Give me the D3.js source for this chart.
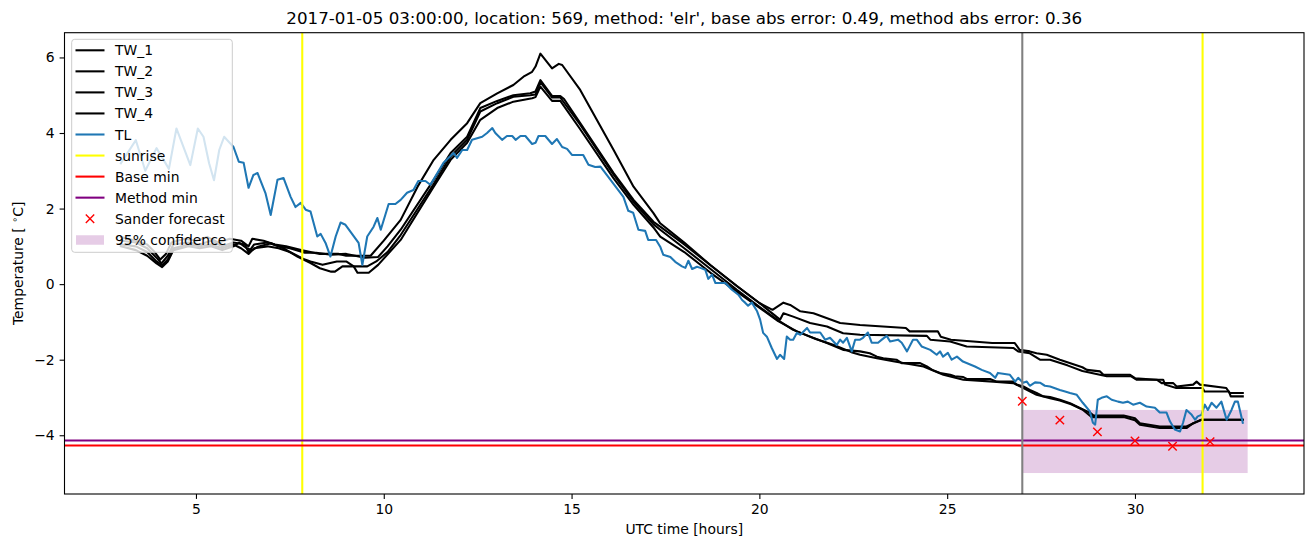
<!DOCTYPE html>
<html>
<head>
<meta charset="utf-8">
<script src="https://cdn.jsdelivr.net/npm/d3@7"></script>
<style>
  html, body { margin: 0; padding: 0; background: #fff; }
  svg { display: block; font-family: "DejaVu Sans", sans-serif; }
</style>
</head>
<body>
<svg id="chart" width="1313" height="547"></svg>
<script>
// ---------------- DATA ----------------
const titleText = "2017-01-05 03:00:00, location: 569, method: 'elr', base abs error: 0.49, method abs error: 0.36";
const xTicks = [5, 10, 15, 20, 25, 30];
const yTicks = [-4, -2, 0, 2, 4, 6];

const tlHours = [3.00,3.40,3.65,3.95,4.28,4.48,4.85,5.05,5.20,5.35,5.48,5.62,5.75,6.00,6.14,6.27,6.40,6.53,6.64,6.85,6.99,7.17,7.33,7.52,7.65,7.79,7.92,8.05,8.23,8.32,8.45,8.58,8.72,8.85,8.98,9.33,9.43,9.56,9.73,9.83,9.92,10.13,10.31,10.45,10.62,10.79,10.92,11.11,11.24,11.32,11.59,11.86,11.95,12.09,12.22,12.35,12.62,12.75,12.89,12.97,13.15,13.28,13.42,13.51,13.64,13.77,13.95,14.04,14.12,14.30,14.48,14.61,14.75,14.88,15.01,15.31,15.45,15.63,15.77,16.38,16.51,16.64,16.78,16.96,17.04,17.25,17.36,17.44,17.63,17.76,17.94,18.03,18.11,18.21,18.34,18.43,18.56,18.64,18.74,18.83,19.09,19.27,19.44,19.54,19.62,19.70,19.80,19.94,20.02,20.10,20.20,20.33,20.47,20.55,20.66,20.73,20.82,20.90,21.00,21.09,21.27,21.35,21.62,21.75,21.88,22.06,22.15,22.23,22.33,22.46,22.55,22.68,22.76,22.89,22.99,23.16,23.26,23.39,23.48,23.69,23.79,23.93,24.09,24.19,24.32,24.55,24.72,24.81,24.89,25.02,25.12,25.26,25.42,25.74,25.92,26.14,26.28,26.35,26.67,26.81,26.89,27.02,27.12,27.20,27.34,27.47,27.60,27.74,28.00,28.14,28.27,28.45,28.61,28.80,28.88,28.94,29.01,29.11,29.25,29.38,29.55,29.68,29.81,29.95,30.13,30.31,30.53,30.66,30.84,30.93,31.06,31.20,31.28,31.37,31.51,31.60,31.67,31.77,31.86,31.94,32.04,32.17,32.30,32.44,32.57,32.66,32.74,32.87];
const tlTemps = [3.20,3.81,3.00,3.60,3.05,4.12,3.15,4.12,3.90,3.20,2.75,3.55,3.90,3.63,3.24,3.21,2.55,2.89,2.94,2.41,1.83,2.76,2.81,2.31,2.04,2.15,1.97,1.92,1.26,1.33,1.09,0.73,1.26,1.63,1.57,1.09,0.51,1.26,1.52,1.75,1.44,2.12,2.12,2.23,2.42,2.49,2.73,2.73,2.63,2.76,3.21,3.47,3.34,3.55,3.55,3.82,3.90,4.00,4.13,4.00,3.82,3.92,3.92,3.82,3.92,3.92,3.71,3.74,3.92,3.92,3.71,3.84,3.63,3.58,3.42,3.42,3.16,3.10,3.11,2.31,1.94,1.89,1.44,1.41,1.17,1.17,0.99,0.78,0.72,0.59,0.47,0.43,0.62,0.40,0.46,0.43,0.38,0.14,0.25,0.03,0.03,-0.15,-0.28,-0.42,-0.49,-0.57,-0.49,-0.72,-0.94,-1.29,-1.39,-1.69,-1.98,-1.87,-1.98,-1.39,-1.47,-1.47,-1.29,-1.34,-1.16,-1.28,-1.28,-1.47,-1.42,-1.61,-1.47,-1.55,-1.42,-1.78,-1.47,-1.47,-1.42,-1.28,-1.55,-1.55,-1.47,-1.37,-1.52,-1.47,-1.55,-1.78,-1.47,-1.47,-1.65,-1.74,-1.87,-1.78,-1.92,-1.82,-2.00,-1.92,-2.05,-2.18,-2.27,-2.35,-2.48,-2.35,-2.40,-2.58,-2.48,-2.61,-2.58,-2.69,-2.60,-2.61,-2.69,-2.71,-2.80,-2.84,-2.88,-2.93,-3.14,-3.37,-3.67,-3.72,-3.06,-3.01,-2.97,-3.06,-3.11,-3.14,-3.11,-3.19,-3.14,-3.24,-3.27,-3.40,-3.40,-3.63,-3.85,-3.90,-3.67,-3.33,-3.46,-3.59,-3.50,-3.46,-3.19,-3.33,-3.14,-3.27,-3.11,-3.59,-3.33,-3.11,-3.11,-3.67];

const tw1Hours = [3.00,3.40,3.70,3.90,4.05,4.20,4.35,4.70,5.00,5.30,5.60,5.90,6.20,6.40,6.50,6.80,7.10,7.40,7.80,8.30,8.80,9.00,9.65,10.00,10.45,10.90,11.33,11.78,12.22,12.57,13.02,13.45,13.72,13.95,14.04,14.17,14.48,14.66,14.75,15.23,16.12,16.65,17.18,17.36,18.00,18.70,19.40,20.00,20.35,20.64,20.82,21.09,21.44,22.15,22.68,23.90,24.00,24.75,24.83,25.10,26.20,26.80,26.93,27.20,27.38,27.65,28.00,28.30,28.60,28.72,29.07,29.16,29.87,30.00,30.58,30.71,31.02,31.11,31.55,31.64,31.73,32.43,32.52,32.87];
const tw1Temps = [1.25,1.15,1.05,0.85,0.65,0.80,1.10,1.20,1.15,1.25,1.10,1.20,1.15,1.00,1.20,1.15,1.05,1.00,0.90,0.80,0.80,0.75,0.75,1.15,1.70,2.58,3.29,3.82,4.26,4.79,5.05,5.27,5.49,5.62,5.76,6.10,5.71,5.83,5.80,5.14,3.55,2.58,1.88,1.61,1.10,0.50,-0.05,-0.50,-0.68,-0.49,-0.55,-0.72,-0.77,-1.03,-1.08,-1.16,-1.25,-1.25,-1.39,-1.47,-1.56,-1.56,-1.74,-1.78,-1.83,-1.87,-2.00,-2.10,-2.20,-2.27,-2.31,-2.40,-2.40,-2.49,-2.53,-2.62,-2.62,-2.71,-2.66,-2.58,-2.66,-2.75,-2.88,-2.88];

const tw2Hours = [3.00,3.40,3.70,3.95,4.08,4.25,4.40,4.80,5.10,5.40,5.70,6.00,6.30,6.40,6.55,6.90,7.20,7.50,7.90,8.20,8.60,9.00,9.50,9.85,10.10,10.45,11.33,11.78,12.22,12.57,13.02,13.45,13.90,14.04,14.17,14.48,14.70,14.80,15.23,16.12,16.65,17.18,17.36,18.00,18.70,19.40,20.00,20.55,20.64,20.90,21.35,21.80,22.23,22.68,24.46,24.55,25.08,25.52,26.76,26.89,27.20,27.47,27.74,28.20,28.60,29.25,29.90,30.04,30.75,30.80,31.10,31.80,31.85,32.50,32.55,32.87];
const tw2Temps = [1.15,1.10,0.95,0.70,0.55,0.75,1.05,1.10,1.05,1.15,1.00,1.10,1.05,0.85,1.05,1.10,1.00,0.95,0.83,0.83,0.78,0.80,0.70,0.72,1.00,1.44,2.76,3.47,3.90,4.66,4.85,5.00,5.05,5.10,5.40,4.98,4.98,4.90,4.26,2.94,2.23,1.65,1.52,1.05,0.50,-0.05,-0.50,-0.94,-0.77,-0.86,-1.03,-1.12,-1.30,-1.34,-1.37,-1.47,-1.52,-1.65,-1.69,-1.78,-1.83,-2.00,-2.00,-2.15,-2.30,-2.44,-2.44,-2.53,-2.53,-2.66,-2.75,-2.75,-2.84,-2.84,-2.97,-2.97];

const tw3Hours = [3.00,3.40,3.70,3.95,4.10,4.25,4.40,4.80,5.10,5.40,5.70,6.00,6.20,6.40,6.55,6.90,7.20,7.50,7.90,8.05,8.37,8.75,9.00,9.20,9.56,9.80,10.10,10.45,11.33,11.78,12.22,12.57,13.02,13.45,13.90,14.04,14.17,14.48,14.70,15.23,16.12,16.65,17.18,17.36,18.00,18.70,19.40,20.00,20.47,20.90,21.35,21.80,22.23,22.68,22.94,23.13,23.30,23.65,23.79,24.28,24.46,24.60,24.81,25.08,25.20,25.43,25.52,26.14,26.32,26.76,26.85,27.03,27.20,27.38,27.56,27.74,28.00,28.27,28.53,28.80,28.90,29.70,30.00,30.13,30.66,31.37,31.77,32.87];
const tw3Temps = [1.05,1.00,0.85,0.60,0.50,0.65,0.95,1.05,1.00,1.05,0.95,1.05,0.95,0.80,0.95,1.00,0.95,0.85,0.65,0.60,0.51,0.60,0.60,0.47,0.47,0.60,0.85,1.30,2.65,3.38,3.82,4.57,4.79,4.96,5.00,5.02,5.35,4.94,4.94,4.22,2.90,2.18,1.58,1.44,0.95,0.40,-0.15,-0.60,-0.94,-1.21,-1.39,-1.56,-1.74,-1.78,-1.83,-1.92,-1.96,-2.00,-2.09,-2.09,-2.18,-2.27,-2.35,-2.40,-2.44,-2.46,-2.51,-2.51,-2.58,-2.58,-2.66,-2.71,-2.80,-2.88,-2.97,-2.99,-3.06,-3.15,-3.28,-3.40,-3.48,-3.48,-3.55,-3.68,-3.77,-3.77,-3.59,-3.59];

const tw4Hours = [3.00,3.40,3.70,3.95,4.10,4.25,4.40,4.80,5.10,5.40,5.70,6.00,6.15,6.35,6.50,6.65,7.00,7.33,7.70,8.05,8.30,8.60,8.70,8.90,9.20,9.30,9.60,9.85,10.45,11.33,11.78,12.22,12.57,13.02,13.45,13.95,14.04,14.17,14.48,14.70,15.23,16.12,16.65,17.18,17.36,18.00,18.70,19.40,20.00,20.50,21.00,21.50,22.00,22.45,22.68,23.13,23.60,24.37,24.90,25.43,26.23,26.76,27.03,27.38,27.74,28.00,28.30,28.60,28.85,29.70,30.00,30.13,30.66,31.37,31.55,31.77,32.87];
const tw4Temps = [1.00,0.90,0.75,0.55,0.45,0.60,0.90,1.00,0.95,1.00,0.90,1.00,1.10,0.95,0.90,0.99,1.08,0.95,0.73,0.56,0.42,0.33,0.33,0.47,0.47,0.30,0.30,0.51,1.17,2.58,3.29,3.74,4.35,4.66,4.83,4.92,4.95,5.23,4.85,4.85,4.10,2.80,2.10,1.50,1.26,0.85,0.30,-0.20,-0.62,-0.98,-1.25,-1.45,-1.62,-1.80,-1.87,-1.96,-2.05,-2.18,-2.40,-2.53,-2.58,-2.62,-2.75,-2.93,-3.02,-3.08,-3.18,-3.32,-3.52,-3.52,-3.60,-3.72,-3.81,-3.81,-3.68,-3.59,-3.59];

const sunriseHours = [7.83, 31.80];
const forecastHour = 27.0;
const baseMin = -4.27;
const methodMin = -4.14;
const sanderHours = [27, 28, 29, 30, 31, 32];
const sanderTemps = [-3.10, -3.60, -3.91, -4.15, -4.29, -4.17];
const confStart = 27.0, confEnd = 33.0;
const confLow = -5.0, confHigh = -3.33;

const legendLabels = ["TW_1","TW_2","TW_3","TW_4","TL","sunrise","Base min","Method min","Sander forecast","95% confidence"];

// ---------------- CHART ----------------
const LW = 2.08;
const svg = d3.select("#chart");
const L = 64.5, R = 1304, T = 32.7, B = 494;
const x = d3.scaleLinear().domain([1.5, 34.5]).range([L, R]);
const y = d3.scaleLinear().domain([-5.555, 6.655]).range([B, T]);

svg.append("defs").append("clipPath").attr("id", "clip")
  .append("rect").attr("x", L).attr("y", T).attr("width", R - L).attr("height", B - T);

const plot = svg.append("g").attr("clip-path", "url(#clip)");

// confidence band
plot.append("rect")
  .attr("x", x(confStart)).attr("y", y(confHigh))
  .attr("width", x(confEnd) - x(confStart)).attr("height", y(confLow) - y(confHigh))
  .attr("fill", "purple").attr("fill-opacity", 0.2);

const line = d3.line().x(d => x(d[0])).y(d => y(d[1]));
const zipS = (hs, ts) => hs.map((h, i) => [h, ts[i]]);

[[tw1Hours, tw1Temps], [tw2Hours, tw2Temps], [tw3Hours, tw3Temps], [tw4Hours, tw4Temps]].forEach(([hs, ts]) => {
  plot.append("path").datum(zipS(hs, ts)).attr("d", line)
    .attr("fill", "none").attr("stroke", "black").attr("stroke-width", LW)
    .attr("stroke-linejoin", "round").attr("stroke-linecap", "square");
});
plot.append("path").datum(zipS(tlHours, tlTemps)).attr("d", line)
  .attr("fill", "none").attr("stroke", "#1f77b4").attr("stroke-width", LW)
  .attr("stroke-linejoin", "round").attr("stroke-linecap", "square");

// sunrise lines
sunriseHours.forEach(h => {
  plot.append("line").attr("x1", x(h)).attr("x2", x(h)).attr("y1", T).attr("y2", B)
    .attr("stroke", "yellow").attr("stroke-width", LW);
});
// base / method min
plot.append("line").attr("x1", L).attr("x2", R).attr("y1", y(baseMin)).attr("y2", y(baseMin))
  .attr("stroke", "red").attr("stroke-width", LW);
plot.append("line").attr("x1", L).attr("x2", R).attr("y1", y(methodMin)).attr("y2", y(methodMin))
  .attr("stroke", "purple").attr("stroke-width", LW);
// forecast time
plot.append("line").attr("x1", x(forecastHour)).attr("x2", x(forecastHour)).attr("y1", T).attr("y2", B)
  .attr("stroke", "grey").attr("stroke-width", LW);

// sander markers
const ms = 4.2;
const xMark = (g, cx, cy) => {
  g.append("path")
    .attr("d", `M${cx - ms},${cy - ms}L${cx + ms},${cy + ms}M${cx - ms},${cy + ms}L${cx + ms},${cy - ms}`)
    .attr("stroke", "red").attr("stroke-width", 1.4).attr("fill", "none");
};
sanderHours.forEach((h, i) => xMark(plot, x(h), y(sanderTemps[i])));

// axes
const xAxis = svg.append("g").attr("transform", `translate(0,${B})`)
  .call(d3.axisBottom(x).tickValues(xTicks).tickSize(4.9).tickPadding(4.9).tickFormat(d3.format("d")));
const yAxis = svg.append("g").attr("transform", `translate(${L},0)`)
  .call(d3.axisLeft(y).tickValues(yTicks).tickSize(4.9).tickPadding(4.9)
    .tickFormat(d => (d < 0 ? "\u2212" + Math.abs(d) : String(d))));
[xAxis, yAxis].forEach(a => {
  a.select(".domain").remove();
  a.selectAll(".tick line").attr("stroke", "black").attr("stroke-width", 1.1);
  a.selectAll(".tick text").attr("font-size", "13.9px").attr("fill", "black")
    .attr("font-family", "DejaVu Sans, sans-serif");
});

// frame
svg.append("rect").attr("x", L).attr("y", T).attr("width", R - L).attr("height", B - T)
  .attr("fill", "none").attr("stroke", "black").attr("stroke-width", 1.1);

// title & labels
svg.append("text").attr("x", (L + R) / 2).attr("y", 24).attr("text-anchor", "middle")
  .attr("font-size", "16.7px").attr("fill", "black").text(titleText);
svg.append("text").attr("x", (L + R) / 2).attr("y", 534).attr("text-anchor", "middle")
  .attr("font-size", "13.9px").attr("fill", "black").text("UTC time [hours]");
const yl = svg.append("text").attr("transform", `translate(23,${(T + B) / 2}) rotate(-90)`)
  .attr("text-anchor", "middle").attr("font-size", "13.9px").attr("fill", "black");
yl.append("tspan").text("Temperature [ ");
yl.append("tspan").attr("font-size", "9.7px").attr("dy", -5).text("\u2218");
yl.append("tspan").attr("dy", 5).text("C]");

// legend
const lg = svg.append("g");
lg.append("rect").attr("x", 71.7).attr("y", 39.3).attr("width", 160.6).attr("height", 213)
  .attr("rx", 3).attr("fill", "white").attr("fill-opacity", 0.8)
  .attr("stroke", "#cccccc").attr("stroke-width", 1);
const legendStyles = [
  {t: "line", c: "black"}, {t: "line", c: "black"}, {t: "line", c: "black"}, {t: "line", c: "black"},
  {t: "line", c: "#1f77b4"}, {t: "line", c: "yellow"}, {t: "line", c: "red"}, {t: "line", c: "purple"},
  {t: "x", c: "red"}, {t: "patch", c: "purple"}
];
legendLabels.forEach((lab, i) => {
  const cy = 50.3 + i * 21.05;
  const st = legendStyles[i];
  if (st.t === "line") {
    lg.append("line").attr("x1", 75.5).attr("x2", 104.5).attr("y1", cy).attr("y2", cy)
      .attr("stroke", st.c).attr("stroke-width", LW);
  } else if (st.t === "x") {
    xMark(lg, 90, cy);
  } else {
    lg.append("rect").attr("x", 76).attr("y", cy - 4.5).attr("width", 28).attr("height", 9.5)
      .attr("fill", st.c).attr("fill-opacity", 0.2);
  }
  lg.append("text").attr("x", 115).attr("y", cy).attr("dy", "0.36em")
    .attr("font-size", "13.9px").attr("fill", "black").text(lab);
});
</script>
</body>
</html>
